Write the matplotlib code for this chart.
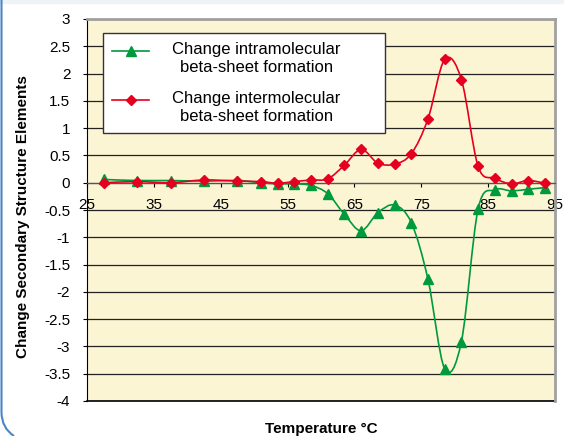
import matplotlib
matplotlib.use("Agg")
import matplotlib.pyplot as plt
from matplotlib.path import Path
from matplotlib.patches import PathPatch, Rectangle
from matplotlib.lines import Line2D
from matplotlib.legend_handler import HandlerLine2D
from matplotlib.transforms import Affine2D
from matplotlib.ticker import FuncFormatter

plt.rcParams['font.family'] = ['Liberation Sans', 'DejaVu Sans']
plt.rcParams['axes.unicode_minus'] = False

# temperature (°C) of each measurement
temperature = [27.5, 32.5, 37.5, 42.5, 47.5, 51, 53.5, 56, 58.5, 61, 63.5, 66,
               68.5, 71, 73.5, 76, 78.5, 81, 83.5, 86, 88.5, 91, 93.5]

# change in intramolecular beta-sheet
intra = [0.06, 0.04, 0.04, 0.03, 0.04, 0.0, -0.02, -0.02, -0.05, -0.2, -0.58, -0.88,
         -0.55, -0.41, -0.73, -1.77, -3.41, -2.91, -0.48, -0.13, -0.15, -0.12, -0.09]

# change in intermolecular beta-sheet
inter = [0.0, 0.02, 0.0, 0.05, 0.03, 0.02, -0.01, 0.02, 0.05, 0.07, 0.32, 0.61,
         0.36, 0.34, 0.53, 1.17, 2.26, 1.89, 0.30, 0.08, -0.02, 0.04, -0.01]

labels = ["Change intramolecular\nbeta-sheet formation",
          "Change intermolecular\nbeta-sheet formation"]
green = '#009a3c'
red = '#e5001f'


def smooth_path(xs, ys):
    # Excel style smoothed line (Catmull-Rom as cubic Bezier)
    verts = [(xs[0], ys[0])]
    codes = [Path.MOVETO]
    n = len(xs)
    for i in range(n - 1):
        x0, y0 = (xs[i - 1], ys[i - 1]) if i > 0 else (xs[i], ys[i])
        x1, y1 = xs[i], ys[i]
        x2, y2 = xs[i + 1], ys[i + 1]
        x3, y3 = (xs[i + 2], ys[i + 2]) if i + 2 < n else (x2, y2)
        c1 = (x1 + (x2 - x0) / 6, y1 + (y2 - y0) / 6)
        c2 = (x2 - (x3 - x1) / 6, y2 - (y3 - y1) / 6)
        verts += [c1, c2, (x2, y2)]
        codes += [Path.CURVE4] * 3
    return Path(verts, codes)


class TopLineHandler(HandlerLine2D):
    # put the legend symbol next to the first text line
    def create_artists(self, legend, orig_handle, xdescent, ydescent,
                       width, height, fontsize, trans):
        trans = Affine2D().translate(0, 5.5) + trans
        return super().create_artists(legend, orig_handle, xdescent, ydescent,
                                      width, height, fontsize, trans)


fig = plt.figure(figsize=(5.64, 4.36), dpi=100)
ax = fig.add_axes([87 / 564, 1 - 401 / 436, 468 / 564, 382 / 436])
ax.set_facecolor('#fbf5d4')

ax.set_xlim(25, 95)
ax.set_ylim(-4, 3)
ax.set_xticks(range(25, 96, 10))
ax.set_yticks([v / 2 for v in range(-8, 7)])
ax.yaxis.set_major_formatter(FuncFormatter(lambda v, p: '%g' % v))

ax.grid(axis='y', color='#222222', linewidth=0.9)
ax.grid(axis='x', visible=False)
ax.set_axisbelow(True)
ax.axhline(-4, color='black', linewidth=1.2, clip_on=False, zorder=1)

ax.spines['bottom'].set_position(('data', 0))
ax.spines['bottom'].set_color('#555555')
ax.spines['left'].set_color('black')
ax.spines['top'].set_color('#a0a0a0')
ax.spines['right'].set_color('#a0a0a0')
ax.spines['top'].set_linewidth(2)
ax.spines['right'].set_linewidth(2)
ax.tick_params(axis='both', direction='out', length=3, labelsize=11)
ax.tick_params(axis='y', pad=9)
ax.tick_params(axis='x', pad=8)

ax.add_patch(PathPatch(smooth_path(temperature, intra), fill=False,
                       edgecolor=green, linewidth=1.2, zorder=3))
ax.plot(temperature, intra, linestyle='none', marker='^', markersize=7,
        color=green, zorder=4)
ax.add_patch(PathPatch(smooth_path(temperature, inter), fill=False,
                       edgecolor=red, linewidth=1.2, zorder=5))
ax.plot(temperature, inter, linestyle='none', marker='D', markersize=5.5,
        color=red, zorder=6)

handles = [Line2D([], [], color=green, marker='^', markersize=7, linewidth=1.2),
           Line2D([], [], color=red, marker='D', markersize=5.5, linewidth=1.2)]
leg = ax.legend(handles, labels, loc='upper left', mode='expand',
                bbox_to_anchor=(0.0342, 0.699, 0.6026, 0.2644),
                fancybox=False, framealpha=1, edgecolor='#333333',
                fontsize=12, handlelength=2.2, handletextpad=1.4,
                labelspacing=1.0, borderpad=0.55, borderaxespad=0,
                handler_map={Line2D: TopLineHandler()})
leg.get_frame().set_linewidth(1.0)
for t in leg.get_texts():
    t.set_multialignment('center')

ax.set_ylabel("Change Secondary Structure Elements", fontsize=11,
              fontweight='bold')
ax.yaxis.set_label_coords(-0.122, 0.482)
ax.set_xlabel("Temperature °C", fontsize=11, fontweight='bold', va='top')
ax.xaxis.set_label_coords(0.5, -0.055)

# panel border of the original page
fig.patches.append(Rectangle((0, 1 - 3 / 436), 1, 3 / 436,
                             transform=fig.transFigure, color='#eef3f8'))
border = Path([(1.5 / 564, 1), (1.5 / 564, 1 - 412 / 436),
               (1.5 / 564, 1 - 428 / 436), (14 / 564, 0)],
              [Path.MOVETO, Path.LINETO, Path.CURVE3, Path.CURVE3])
fig.patches.append(PathPatch(border, fill=False, edgecolor='#4a86c5',
                             linewidth=1.5, transform=fig.transFigure))

fig.savefig('out.png', dpi=100)
